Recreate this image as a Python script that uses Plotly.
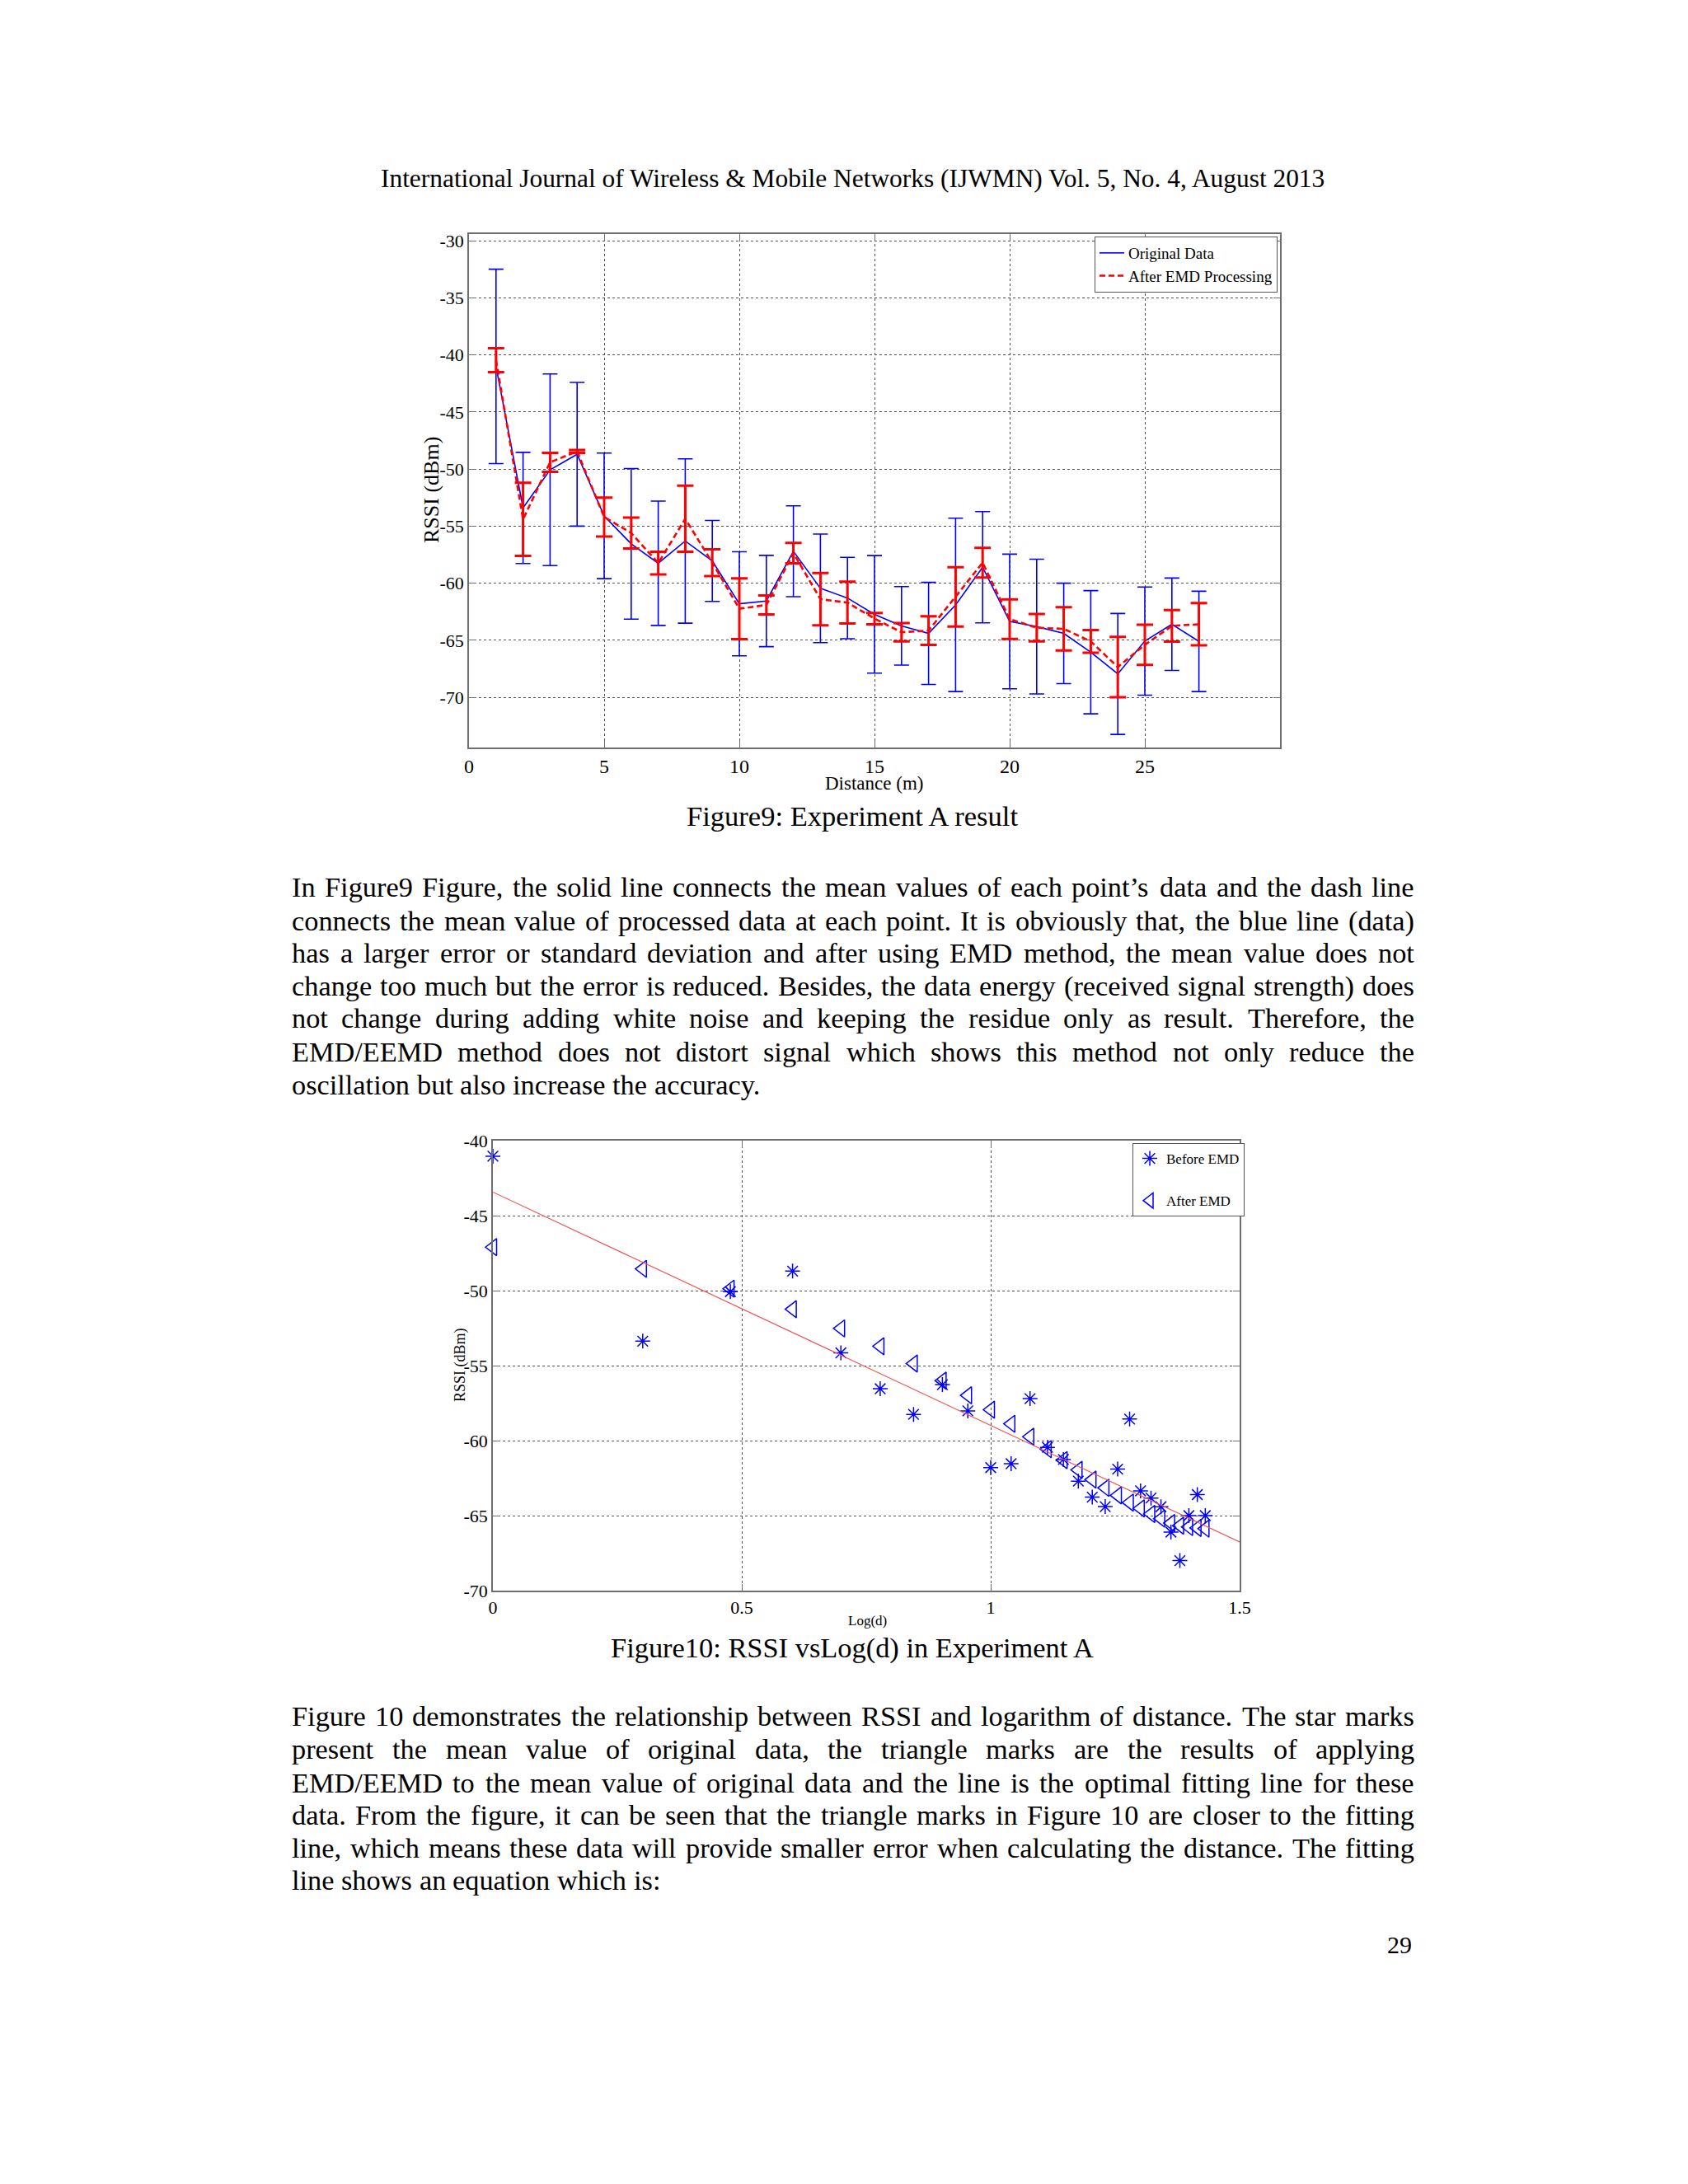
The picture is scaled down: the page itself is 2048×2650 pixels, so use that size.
import plotly.graph_objects as go

# ---------------- data: Figure 9 ----------------
distance_m = [1, 2, 3, 4, 5, 6, 7, 8, 9, 10, 11, 12, 13, 14, 15, 16, 17, 18, 19, 20, 21, 22, 23, 24, 25, 26, 27]
orig_mean = [-41.0, -53.4, -50.06, -48.7, -54.1, -56.55, -58.25, -56.3, -58.05, -61.8, -61.56, -57.2, -60.45, -61.3,
             -62.73, -63.74, -64.4, -61.9, -58.6, -63.35, -63.8, -64.4, -66.05, -67.95, -65.07, -63.6, -65.1]
orig_std = [8.52, 4.87, 8.4, 6.3, 5.5, 6.6, 5.45, 7.2, 3.55, 4.56, 4.0, 3.98, 4.76, 3.57,
            5.15, 3.44, 4.47, 7.6, 4.88, 5.9, 5.9, 4.4, 5.4, 5.3, 4.74, 4.05, 4.4]
emd_mean = [-40.45, -54.4, -49.4, -48.45, -54.2, -55.6, -58.24, -54.35, -58.2, -62.24, -61.9, -57.36, -61.4, -61.7,
            -63.1, -64.3, -64.15, -61.2, -58.2, -63.15, -63.9, -64.0, -65.1, -67.35, -65.4, -63.74, -63.6]
emd_std = [1.05, 3.2, 0.83, 0.12, 1.7, 1.36, 1.0, 2.9, 1.17, 2.67, 0.83, 0.9, 2.3, 1.83,
           0.5, 0.8, 1.26, 2.6, 1.3, 1.73, 1.2, 1.9, 1.0, 2.65, 1.76, 1.38, 1.85]
fig9_xticks = [0, 5, 10, 15, 20, 25]
fig9_yticks = [-30, -35, -40, -45, -50, -55, -60, -65, -70]

# ---------------- data: Figure 10 ----------------
log_d = [0.0, 0.301, 0.477, 0.602, 0.699, 0.778, 0.845, 0.903, 0.954, 1.0, 1.041, 1.079, 1.114, 1.146,
         1.176, 1.204, 1.230, 1.255, 1.279, 1.301, 1.322, 1.342, 1.362, 1.380, 1.398, 1.415, 1.431]
before_emd = [-41.04, -53.37, -50.07, -48.7, -54.15, -56.54, -58.25, -56.27, -58.02, -61.8, -61.54, -57.2, -60.45, -61.26,
              -62.7, -63.77, -64.4, -61.9, -58.56, -63.35, -63.83, -64.41, -66.1, -68.0, -65.0, -63.6, -65.0]
after_emd = [-47.1, -48.55, -49.87, -51.24, -52.52, -53.71, -54.86, -56.0, -56.98, -57.94, -58.88, -59.74, -60.57, -61.3,
             -61.95, -62.6, -63.15, -63.65, -64.13, -64.52, -64.89, -65.2, -65.5, -65.67, -65.76, -65.82, -65.87]
fit_x = [0.0, 1.5]
fit_y = [-43.43, -66.76]
fig10_xticks = [0, 0.5, 1, 1.5]
fig10_yticks = [-40, -45, -50, -55, -60, -65, -70]

# ---------------- page text ----------------
header = "International Journal of Wireless &amp; Mobile Networks (IJWMN) Vol. 5, No. 4, August 2013"
caption9 = "Figure9: Experiment A result"
caption10 = "Figure10: RSSI vsLog(d) in Experiment A"
para1 = [
    "In Figure9 Figure, the solid line connects the mean values of each point\u2019s data and the dash line",
    "connects the mean value of processed data at each point. It is obviously that, the blue line (data)",
    "has a larger error or standard deviation and after using EMD method, the mean value does not",
    "change too much but the error is reduced. Besides, the data energy (received signal strength) does",
    "not change during adding white noise and keeping the residue only as result. Therefore, the",
    "EMD/EEMD method does not distort signal which shows this method not only reduce the",
    "oscillation but also increase the accuracy.",
]
para2 = [
    "Figure 10 demonstrates the relationship between RSSI and logarithm of distance. The star marks",
    "present the mean value of original data, the triangle marks are the results of applying",
    "EMD/EEMD to the mean value of original data and the line is the optimal fitting line for these",
    "data. From the figure, it can be seen that the triangle marks in Figure 10 are closer to the fitting",
    "line, which means these data will provide smaller error when calculating the distance. The fitting",
    "line shows an equation which is:",
]
page_number = "29"

# ---------------- layout helpers ----------------
PW, PH = 2048, 2650
OFF = 8  # page body margin of the html document
SERIF = "Liberation Serif, Times New Roman, serif"
BLUE = "rgb(0,0,255)"
RED = "rgb(255,0,0)"


def fx(px):
    return (px - OFF) / PW


def fy(py):
    return 1 - (py - OFF) / PH


# Times-Roman advance widths (1/1000 em)
TW = {' ': 250, '!': 333, '(': 333, ')': 333, ',': 250, '-': 333, '.': 250, '/': 278, ':': 278, ';': 278,
      '\u2019': 333, "'": 333, '&': 778, '?': 444}
for c in '0123456789':
    TW[c] = 500
TW.update(dict(zip('ABCDEFGHIJKLMNOPQRSTUVWXYZ',
                   [722, 667, 667, 722, 611, 556, 722, 722, 333, 389, 722, 611, 889, 722, 722, 556, 722, 667, 556,
                    611, 722, 722, 944, 722, 722, 611])))
TW.update(dict(zip('abcdefghijklmnopqrstuvwxyz',
                   [444, 500, 444, 500, 444, 333, 500, 500, 278, 278, 500, 278, 778, 500, 500, 500, 500, 333, 389,
                    278, 500, 500, 722, 500, 500, 444])))


def units(s):
    return sum(TW.get(c, 500) for c in s)


annotations = []


def add_text(text, x, y, size, xanchor="center", yanchor="middle", angle=0):
    annotations.append(dict(text=text, x=fx(x), y=fy(y), xref="paper", yref="paper", showarrow=False,
                            xanchor=xanchor, yanchor=yanchor, textangle=angle, borderpad=0,
                            font=dict(family=SERIF, size=size, color="black")))


# justified paragraph
LEFT, RIGHT = 353, 1715
WIDTH = RIGHT - LEFT
all_full = para1[:-1] + para2[:-1]
body_size = 0.985 * min(WIDTH * 1000 / units(l) for l in all_full)
body_size = min(body_size, 35)


def add_paragraph(lines, ys):
    for i, (line, y) in enumerate(zip(lines, ys)):
        words = line.split()
        last = (i == len(lines) - 1)
        wsum = sum(units(w) for w in words) * body_size / 1000
        if last or len(words) < 2:
            gap = TW[' '] * body_size / 1000
        else:
            gap = (WIDTH - wsum) / (len(words) - 1)
        x = LEFT
        for w in words:
            add_text(w, x, y, body_size, xanchor="left")
            x += units(w) * body_size / 1000 + gap


add_paragraph(para1, [1076, 1117, 1156, 1196, 1235, 1276, 1316])
add_paragraph(para2, [2082, 2122, 2163, 2202, 2242, 2281])

add_text(header, 1034, 216, 1154 * 1000 / units(header.replace("&amp;", "&")))
add_text(caption9, 1034, 990, 406 * 1000 / units(caption9))
add_text(caption10, 1034, 1999, 588 * 1000 / units(caption10))
add_text(page_number, 1714, 2359, 30, xanchor="right")

# axis titles
add_text("RSSI (dBm)", 523, 595, 26, angle=-90)
add_text("Distance (m)", 1060, 951, 23)
add_text("RSSI (dBm)", 558, 1656, 18, angle=-90)
add_text("Log(d)", 1052, 1966, 17)

# ---------------- figure ----------------
fig = go.Figure()

fig.add_trace(go.Scatter(
    x=distance_m, y=orig_mean, mode="lines", name="Original Data",
    line=dict(color=BLUE, width=1.6),
    error_y=dict(type="data", array=orig_std, symmetric=True, color=BLUE, thickness=1.6, width=9),
    xaxis="x", yaxis="y", legend="legend", cliponaxis=False))
fig.add_trace(go.Scatter(
    x=distance_m, y=emd_mean, mode="lines", name="After EMD Processing",
    line=dict(color=RED, width=2.6, dash="7px,4px"),
    error_y=dict(type="data", array=emd_std, symmetric=True, color=RED, thickness=3, width=10),
    xaxis="x", yaxis="y", legend="legend", cliponaxis=False))

fig.add_trace(go.Scatter(
    x=log_d, y=before_emd, mode="markers", name="Before EMD", legendgroup="b",
    marker=dict(symbol="asterisk-open", size=15, color=BLUE, line=dict(color=BLUE, width=1.5)),
    xaxis="x2", yaxis="y2", legend="legend2", cliponaxis=False))
fig.add_trace(go.Scatter(
    x=log_d, y=after_emd, mode="markers", name="After EMD", legendgroup="a",
    marker=dict(symbol="triangle-left-open", size=18, color=BLUE, line=dict(color=BLUE, width=1.5)),
    xaxis="x2", yaxis="y2", legend="legend2", cliponaxis=False))
fig.add_trace(go.Scatter(
    x=fit_x, y=fit_y, mode="lines", showlegend=False,
    line=dict(color="rgb(235,90,90)", width=1.2), xaxis="x2", yaxis="y2"))

axis_common = dict(showline=True, linecolor="#6e6e6e", linewidth=1.5, mirror="ticks", ticks="inside",
                   ticklen=8, tickcolor="#6e6e6e", showgrid=True, gridcolor="#555555", griddash="dot",
                   gridwidth=1, zeroline=False, automargin=False)
xfont = dict(family=SERIF, size=24, color="black")
yfont = dict(family=SERIF, size=22, color="black")

fig.update_layout(
    width=PW, height=PH, margin=dict(l=0, r=0, t=0, b=0, pad=0, autoexpand=False),
    paper_bgcolor="white", plot_bgcolor="white",
    xaxis=dict(domain=[fx(569), fx(1553)], range=[0, 30], anchor="y", tickfont=xfont,
               tickvals=fig9_xticks, ticktext=[str(v) for v in fig9_xticks], **axis_common),
    yaxis=dict(domain=[fy(907), fy(284)], range=[-74.4, -29.4], anchor="x", tickfont=yfont,
               tickvals=fig9_yticks, ticktext=[str(v) for v in fig9_yticks], **axis_common),
    xaxis2=dict(domain=[fx(598), fx(1504)], range=[0, 1.5], anchor="y2", tickfont=yfont,
                tickvals=fig10_xticks, ticktext=["0", "0.5", "1", "1.5"], **axis_common),
    yaxis2=dict(domain=[fy(1930), fy(1384)], range=[-70, -40], anchor="x2", tickfont=yfont,
                tickvals=fig10_yticks, ticktext=[str(v) for v in fig10_yticks], **axis_common),
    legend=dict(x=fx(1328), y=fy(287), xanchor="left", yanchor="top", bgcolor="white",
                bordercolor="#555555", borderwidth=1, itemwidth=30, tracegroupgap=0,
                font=dict(family=SERIF, size=19, color="black")),
    legend2=dict(x=fx(1374), y=fy(1387), xanchor="left", yanchor="top", bgcolor="white",
                 bordercolor="#555555", borderwidth=1, itemwidth=30, tracegroupgap=26,
                 font=dict(family=SERIF, size=17, color="black")),
    annotations=annotations,
    showlegend=True,
)

fig.write_html("out.html")
